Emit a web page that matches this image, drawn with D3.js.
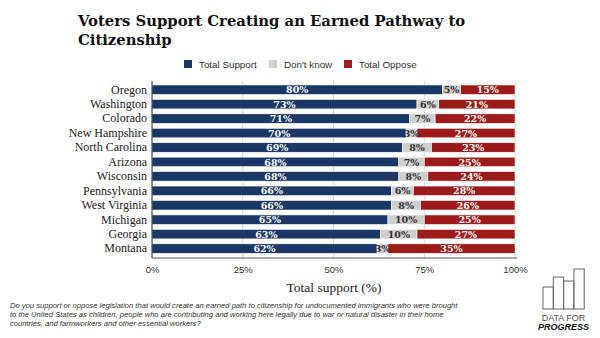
<!DOCTYPE html>
<html>
<head>
<meta charset="utf-8">
<script src="https://cdn.jsdelivr.net/npm/d3@7"></script>
<style>
body { margin: 0; background: #fff; }
svg { display: block; }
</style>
</head>
<body>
<svg width="600" height="338"></svg>
<script>
// data
var states = ['Oregon', 'Washington', 'Colorado', 'New Hampshire', 'North Carolina', 'Arizona',
              'Wisconsin', 'Pennsylvania', 'West Virginia', 'Michigan', 'Georgia', 'Montana'];
var support  = [80, 73, 71, 70, 69, 68, 68, 66, 66, 65, 63, 62];
var dontKnow = [5, 6, 7, 3, 8, 7, 8, 6, 8, 10, 10, 3];
var oppose   = [15, 21, 22, 27, 23, 25, 24, 28, 26, 25, 27, 35];
var seriesNames = ['Total Support', "Don't know", 'Total Oppose'];
var tickValues = [0, 25, 50, 75, 100];
var footnote = [
  'Do you support or oppose legislation that would create an earned path to citizenship for undocumented immigrants who were brought',
  'to the United States as children, people who are contributing and working here legally due to war or natural disaster in their home',
  'countries, and farmworkers and other essential workers?'
];

var colors = ['#1b3765', '#cfcfcf', '#9c1b1a'];
var labelColors = ['#fff', '#333', '#fff'];

var rows = states.map((s, i) => ({state: s, support: support[i], dk: dontKnow[i], oppose: oppose[i]}));
var keys = ['support', 'dk', 'oppose'];
var stacked = d3.stack().keys(keys)(rows);

var svg = d3.select('svg');
var serif = "'DejaVu Serif', Georgia, serif";
var times = "'Liberation Serif', 'Times New Roman', serif";
var sans = "'Liberation Sans', Arial, sans-serif";

var x = d3.scaleLinear().domain([0, 100]).range([152, 515]);
var y = d3.scaleBand().domain(states).range([82.5, 255.8]).paddingInner(0.34).paddingOuter(0.17);

// title
svg.append('text').attr('x', 78).attr('y', 26)
  .style('font-family', serif).style('font-weight', 'bold').style('font-size', '14.8px').attr('fill', '#111')
  .text('Voters Support Creating an Earned Pathway to');
svg.append('text').attr('x', 78).attr('y', 45)
  .style('font-family', serif).style('font-weight', 'bold').style('font-size', '14.8px').attr('fill', '#111')
  .text('Citizenship');

// legend
var legX = [184, 269, 344];
var leg = svg.selectAll('g.leg').data(seriesNames).enter().append('g').attr('class', 'leg')
  .attr('transform', (d, i) => `translate(${legX[i]},60)`);
leg.append('rect').attr('width', 8).attr('height', 8).attr('fill', (d, i) => colors[i]);
leg.append('text').attr('x', 15).attr('y', 7.8).text(d => d)
  .style('font-family', sans).style('font-size', '9.8px').attr('fill', '#333');

// gridlines
svg.selectAll('line.grid').data(tickValues.slice(1)).enter().append('line').attr('class', 'grid')
  .attr('x1', d => x(d)).attr('x2', d => x(d)).attr('y1', 81).attr('y2', 258)
  .attr('stroke', '#d6d6d6').attr('stroke-width', 1);

// bars
var layers = svg.selectAll('g.layer').data(stacked).enter().append('g').attr('class', 'layer')
  .attr('fill', (d, i) => colors[i]);
layers.selectAll('rect').data(d => d).enter().append('rect')
  .attr('x', d => x(d[0]))
  .attr('width', d => x(d[1]) - x(d[0]))
  .attr('y', d => y(d.data.state))
  .attr('height', y.bandwidth())
  .attr('stroke', '#fff').attr('stroke-width', 0.6);

// value labels
stacked.forEach(function (layer, li) {
  svg.append('g').selectAll('text').data(layer).enter().append('text')
    .attr('x', d => x((d[0] + d[1]) / 2))
    .attr('y', d => y(d.data.state) + y.bandwidth() / 2 + 3.6)
    .attr('text-anchor', 'middle')
    .style('font-family', serif).style('font-weight', 'bold').style('font-size', '9.5px')
    .attr('fill', labelColors[li])
    .text(d => (d[1] - d[0]) + '%');
});

// axes
var yAxis = svg.append('g').attr('transform', 'translate(152,0)')
  .call(d3.axisLeft(y).tickSize(0).tickPadding(5));
yAxis.select('.domain').attr('stroke', '#222').attr('d', 'M0,81V258');
yAxis.selectAll('text').style('font-family', times).style('font-size', '12px').attr('fill', '#222');

var xAxis = svg.append('g').attr('transform', 'translate(0,258)')
  .call(d3.axisBottom(x).tickValues(tickValues).tickFormat(d => d + '%').tickSize(0).tickPadding(8));
xAxis.select('.domain').attr('stroke', '#555').attr('d', 'M152,0H517');
xAxis.selectAll('text').style('font-family', sans).style('font-size', '9.5px').attr('fill', '#333');

svg.append('text').attr('x', 334).attr('y', 292).attr('text-anchor', 'middle')
  .style('font-family', times).style('font-size', '13.5px').attr('fill', '#222')
  .text('Total support (%)');

// footnote
svg.append('g').selectAll('text').data(footnote).enter().append('text')
  .attr('x', 10).attr('y', (d, i) => 308 + i * 9)
  .style('font-family', sans).style('font-style', 'italic').style('font-size', '7.6px').attr('fill', '#333')
  .text(d => d);

// logo
var logoTops = [287, 277, 281, 269];
var logo = svg.append('g');
logo.selectAll('rect').data(logoTops).enter().append('rect')
  .attr('x', (d, i) => 543 + i * 10.3).attr('y', d => d)
  .attr('width', 10.3).attr('height', d => 309 - d)
  .attr('fill', 'none').attr('stroke', '#666').attr('stroke-width', 1);
logo.append('text').attr('x', 563.5).attr('y', 320.5).attr('text-anchor', 'middle')
  .style('font-family', sans).style('font-size', '9px').attr('fill', '#555').text('DATA FOR');
logo.append('text').attr('x', 563.5).attr('y', 330).attr('text-anchor', 'middle')
  .style('font-family', sans).style('font-size', '9px').style('font-weight', 'bold').style('font-style', 'italic')
  .attr('fill', '#111').text('PROGRESS');
</script>
</body>
</html>
